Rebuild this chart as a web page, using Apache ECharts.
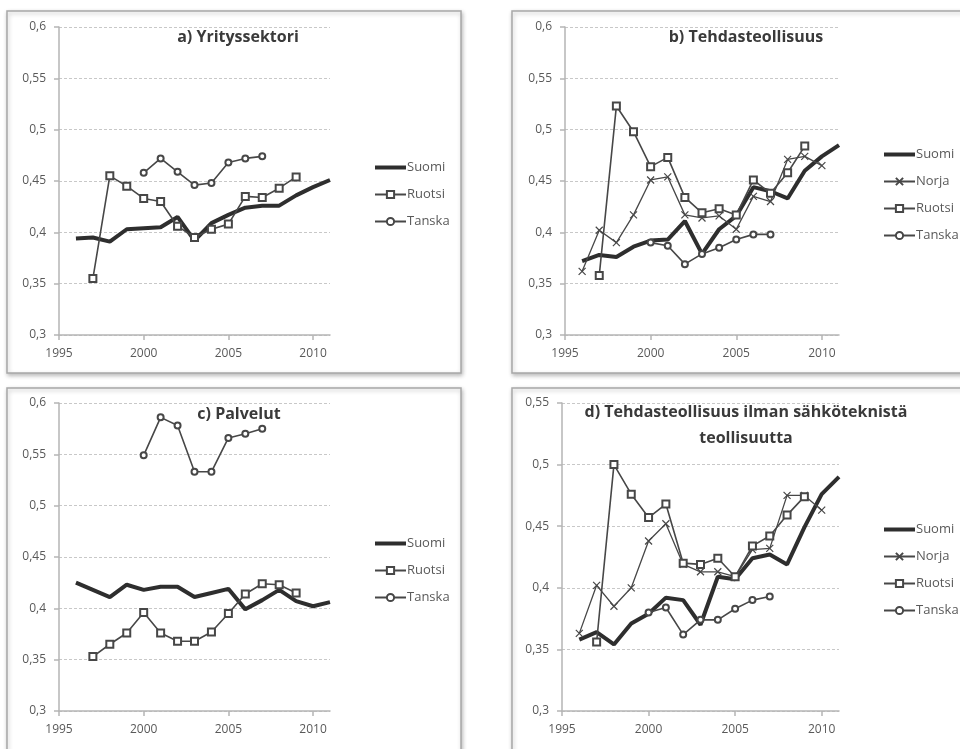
<!DOCTYPE html>
<html>
<head>
<meta charset="utf-8">
<script src="https://cdn.jsdelivr.net/npm/echarts@6/dist/echarts.min.js"></script>
<style>
  html, body { margin: 0; padding: 0; background: #fff; }
  #main { width: 960px; height: 749px; }
</style>
</head>
<body>
<div id="main"></div>
<script>
    // vuodet
    const years = [1996, 1997, 1998, 1999, 2000, 2001, 2002, 2003, 2004, 2005, 2006, 2007, 2008, 2009, 2010, 2011]

    // a) Yrityssektori
    const suomiA  = [0.394, 0.395, 0.391, 0.403, 0.404, 0.405, 0.415, 0.392, 0.409, 0.417, 0.424, 0.426, 0.426, 0.436, 0.444, 0.451]
    const ruotsiA = [null, 0.355, 0.455, 0.445, 0.433, 0.430, 0.406, 0.395, 0.403, 0.408, 0.435, 0.434, 0.443, 0.454, null, null]
    const tanskaA = [null, null, null, null, 0.458, 0.472, 0.459, 0.446, 0.448, 0.468, 0.472, 0.474, null, null, null, null]

    // b) Tehdasteollisuus
    const suomiB  = [0.372, 0.378, 0.376, 0.386, 0.392, 0.393, 0.411, 0.379, 0.403, 0.416, 0.444, 0.440, 0.433, 0.460, 0.474, 0.485]
    const norjaB  = [0.362, 0.402, 0.390, 0.417, 0.451, 0.454, 0.417, 0.414, 0.416, 0.403, 0.435, 0.430, 0.471, 0.474, 0.465, null]
    const ruotsiB = [null, 0.358, 0.523, 0.498, 0.464, 0.473, 0.434, 0.419, 0.423, 0.417, 0.451, 0.438, 0.458, 0.484, null, null]
    const tanskaB = [null, null, null, null, 0.390, 0.387, 0.369, 0.379, 0.385, 0.393, 0.398, 0.398, null, null, null, null]

    // c) Palvelut
    const suomiC  = [0.425, 0.418, 0.411, 0.423, 0.418, 0.421, 0.421, 0.411, 0.415, 0.419, 0.399, 0.408, 0.418, 0.407, 0.402, 0.406]
    const ruotsiC = [null, 0.353, 0.365, 0.376, 0.396, 0.376, 0.368, 0.368, 0.377, 0.395, 0.414, 0.424, 0.423, 0.415, null, null]
    const tanskaC = [null, null, null, null, 0.549, 0.586, 0.578, 0.533, 0.533, 0.566, 0.570, 0.575, null, null, null, null]

    // d) Tehdasteollisuus ilman sähköteknistä teollisuutta
    const suomiD  = [0.358, 0.364, 0.354, 0.371, 0.379, 0.392, 0.390, 0.370, 0.409, 0.407, 0.424, 0.427, 0.419, 0.449, 0.476, 0.490]
    const norjaD  = [0.363, 0.402, 0.385, 0.400, 0.438, 0.452, 0.419, 0.413, 0.413, 0.409, 0.431, 0.432, 0.475, 0.475, 0.463, null]
    const ruotsiD = [null, 0.356, 0.500, 0.476, 0.457, 0.468, 0.420, 0.419, 0.424, 0.409, 0.434, 0.442, 0.459, 0.474, null, null]
    const tanskaD = [null, null, null, null, 0.380, 0.384, 0.362, 0.374, 0.374, 0.383, 0.390, 0.393, null, null, null, null]

    const titles = ['a) Yrityssektori', 'b) Tehdasteollisuus', 'c) Palvelut', 'd) Tehdasteollisuus ilman sähköteknistä\nteollisuutta']
    const yMax = [0.6, 0.6, 0.6, 0.55]

    const font = '"Open Sans", "Liberation Sans", sans-serif'
    const labelColor = '#595959'
    const lineColor = '#474747'

    function pairs(vals){
        return years.map((y, i) => [y, vals[i]]).filter(p => p[1] !== null)
    }

    const grids = [
        {left: 59, top: 27, width: 271, height: 308},
        {left: 565, top: 27, width: 274, height: 308},
        {left: 59, top: 403, width: 271, height: 308},
        {left: 562, top: 403, width: 277, height: 308},
    ]

    function suomi(vals, idx){
        return {name: 'Suomi', type: 'line', xAxisIndex: idx, yAxisIndex: idx, data: pairs(vals),
            symbol: 'none', lineStyle: {color: '#2e2e2e', width: 4}, itemStyle: {color: '#2e2e2e'}}
    }
    function norja(vals, idx){
        return {name: 'Norja', type: 'line', xAxisIndex: idx, yAxisIndex: idx, data: pairs(vals),
            symbol: 'path://M0,0L10,10M10,0L0,10', symbolSize: 7,
            lineStyle: {color: lineColor, width: 1.3},
            itemStyle: {color: lineColor, borderColor: lineColor, borderWidth: 1.2}}
    }
    function ruotsi(vals, idx){
        return {name: 'Ruotsi', type: 'line', xAxisIndex: idx, yAxisIndex: idx, data: pairs(vals),
            symbol: 'emptyRect', symbolSize: 7,
            lineStyle: {color: lineColor, width: 1.6},
            itemStyle: {color: lineColor, borderColor: lineColor, borderWidth: 1.2}}
    }
    function tanska(vals, idx){
        return {name: 'Tanska', type: 'line', xAxisIndex: idx, yAxisIndex: idx, data: pairs(vals),
            symbol: 'emptyCircle', symbolSize: 6,
            lineStyle: {color: lineColor, width: 1.6},
            itemStyle: {color: lineColor, borderColor: lineColor, borderWidth: 1.2}}
    }

    const suomiIcon = 'path://M0,0H31V4H0Z'
    const legendPos = [
        {left: 369, top: 156, names: ['Suomi', 'Ruotsi', 'Tanska']},
        {left: 878, top: 143, names: ['Suomi', 'Norja', 'Ruotsi', 'Tanska']},
        {left: 369, top: 532, names: ['Suomi', 'Ruotsi', 'Tanska']},
        {left: 878, top: 518, names: ['Suomi', 'Norja', 'Ruotsi', 'Tanska']},
    ]

    const titlePos = [[233, 19], [741, 19], [234, 396], [741, 394]]

    const panels = [
        {x: 7, y: 11, width: 454, height: 362},
        {x: 512, y: 11, width: 470, height: 362},
        {x: 7, y: 388, width: 454, height: 380},
        {x: 512, y: 388, width: 470, height: 380},
    ]

    const chart = echarts.init(document.getElementById('main'))
    chart.setOption({
        backgroundColor: '#fff',
        animation: false,
        textStyle: {fontFamily: font},
        graphic: panels.map(p => ({
            type: 'rect', z: -10, silent: true,
            shape: {x: p.x, y: p.y, width: p.width, height: p.height},
            style: {fill: '#fff', stroke: '#a8a8a8', lineWidth: 1.5,
                shadowBlur: 4, shadowColor: 'rgba(0,0,0,0.25)', shadowOffsetX: 1, shadowOffsetY: 2}
        })),
        title: titles.map((t, i) => ({
            text: t, left: titlePos[i][0], top: titlePos[i][1], textAlign: 'center',
            textStyle: {fontFamily: font, fontSize: 16, fontWeight: 'bold', color: '#3a3a3a', lineHeight: 26}
        })),
        legend: legendPos.map(l => ({
            left: l.left, top: l.top, orient: 'vertical',
            data: l.names.map(n => (n === 'Suomi' ? {name: n, icon: suomiIcon} : n)),
            itemWidth: 31, itemHeight: 9, itemGap: 14, selectedMode: false,
            textStyle: {fontFamily: font, fontSize: 13, color: labelColor, padding: [0, 0, 0, -4]}
        })),
        grid: grids,
        xAxis: grids.map((g, i) => ({
            type: 'value', gridIndex: i, min: 1995, max: 2011, interval: 5,
            axisLine: {lineStyle: {color: '#b5b5b5', width: 1.5}},
            axisTick: {show: true, length: 5, lineStyle: {color: '#b5b5b5', width: 1.5}},
            splitLine: {show: false},
            axisLabel: {color: labelColor, fontSize: 12, margin: 13, showMaxLabel: false,
                formatter: v => (v % 5 === 0 ? String(v) : '')}
        })),
        yAxis: grids.map((g, i) => ({
            type: 'value', gridIndex: i, min: 0.3, max: yMax[i], interval: 0.05,
            axisLine: {show: true, lineStyle: {color: '#b5b5b5', width: 1.5}},
            axisTick: {show: true, length: 5, lineStyle: {color: '#b5b5b5', width: 1.5}},
            splitLine: {show: true, lineStyle: {color: '#c8c8c8', type: [3, 2], width: 1}},
            axisLabel: {color: labelColor, fontSize: 12, margin: 13,
                formatter: v => String(+v.toFixed(2)).replace('.', ',')}
        })),
        series: [
            suomi(suomiA, 0), ruotsi(ruotsiA, 0), tanska(tanskaA, 0),
            suomi(suomiB, 1), norja(norjaB, 1), ruotsi(ruotsiB, 1), tanska(tanskaB, 1),
            suomi(suomiC, 2), ruotsi(ruotsiC, 2), tanska(tanskaC, 2),
            suomi(suomiD, 3), norja(norjaD, 3), ruotsi(ruotsiD, 3), tanska(tanskaD, 3),
        ]
    })
</script>
</body>
</html>
